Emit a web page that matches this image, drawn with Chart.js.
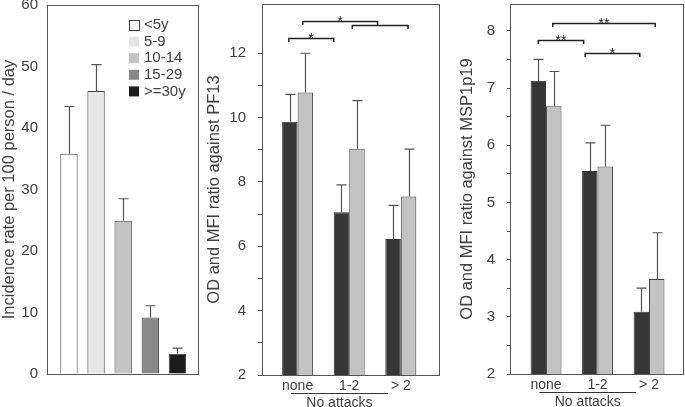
<!DOCTYPE html>
<html>
<head>
<meta charset="utf-8">
<script src="https://cdn.jsdelivr.net/npm/chart.js@4.4.1/dist/chart.umd.min.js"></script>
<style>
body { margin: 0; background: #fff; }
#wrap { position: relative; width: 685px; height: 407px; overflow: hidden; }
canvas { position: absolute; top: 0; }
</style>
</head>
<body>
<div id="wrap">
  <canvas id="chartAge" width="205" height="407" style="left:0"></canvas>
  <canvas id="chartPF13" width="250" height="407" style="left:205px"></canvas>
  <canvas id="chartMSP" width="230" height="407" style="left:455px"></canvas>
</div>
<script>
var ageGroups = ['<5y', '5-9', '10-14', '15-29', '>=30y'];
var incidence = [35.8, 46.0, 24.9, 9.2, 3.3];
var incidenceSd = [7.7, 4.3, 3.6, 1.9, 0.9];
var ageColors = ['#ffffff', '#e6e6e6', '#c4c4c4', '#888888', '#1c1c1c'];

var attackGroups = ['none', '1-2', '> 2'];
var pf13Od = [9.87, 7.06, 6.23];
var pf13OdSd = [0.85, 0.85, 1.04];
var pf13Mfi = [10.78, 9.03, 7.55];
var pf13MfiSd = [1.22, 1.50, 1.47];
var mspOd = [7.13, 5.55, 3.09];
var mspOdSd = [0.37, 0.49, 0.41];
var mspMfi = [6.68, 5.63, 3.66];
var mspMfiSd = [0.61, 0.72, 0.81];

// significance brackets (x in group units, y in axis units)
var pf13Brackets = [
    { x1: 0.83, x2: 1.70, y: 12.48, label: '*' },
    { x1: 1.10, x2: 2.55, y: 12.99, label: '*' },
    { x1: 2.06, x2: 3.14, y: 12.88, label: '' }
];
var mspBrackets = [
    { x1: 0.85, x2: 1.73, y: 7.84, label: '**' },
    { x1: 1.76, x2: 2.82, y: 7.62, label: '*' },
    { x1: 1.13, x2: 3.12, y: 8.14, label: '**' }
];

var FONT = '"Liberation Sans", Arial, sans-serif';
var TEXT = '#404040';
Chart.defaults.font.family = FONT;
Chart.defaults.font.size = 15;
Chart.defaults.color = TEXT;

function points(values) {
    return values.map(function (v, i) { return { x: i + 1, y: v }; });
}

var frame = {
    id: 'frame',
    afterDatasetsDraw: function (chart) {
        var a = chart.chartArea, ctx = chart.ctx;
        ctx.save();
        ctx.strokeStyle = '#555';
        ctx.lineWidth = 1;
        ctx.strokeRect(Math.round(a.left) + 0.5, Math.round(a.top) + 0.5,
            Math.round(a.right - a.left), Math.round(a.bottom - a.top));
        ctx.restore();
    }
};

var errorBars = {
    id: 'errorBars',
    afterDatasetsDraw: function (chart) {
        var ctx = chart.ctx, y = chart.scales.y;
        ctx.save();
        ctx.strokeStyle = '#555';
        ctx.lineWidth = 1.2;
        chart.data.datasets.forEach(function (ds, i) {
            if (!ds.sd) return;
            chart.getDatasetMeta(i).data.forEach(function (bar, j) {
                var top = y.getPixelForValue(ds.data[j].y + ds.sd[j]);
                var x = Math.round(bar.x) + 0.5;
                ctx.beginPath();
                ctx.moveTo(x, bar.y);
                ctx.lineTo(x, top);
                ctx.moveTo(x - 5, top);
                ctx.lineTo(x + 5, top);
                ctx.stroke();
            });
        });
        ctx.restore();
    }
};

var brackets = {
    id: 'brackets',
    afterDatasetsDraw: function (chart, args, opts) {
        if (!opts.items) return;
        var ctx = chart.ctx, xs = chart.scales.x, ys = chart.scales.y;
        ctx.save();
        ctx.strokeStyle = '#222';
        ctx.fillStyle = '#222';
        ctx.lineWidth = 1.5;
        ctx.font = '14px ' + FONT;
        ctx.textAlign = 'center';
        ctx.textBaseline = 'alphabetic';
        opts.items.forEach(function (b) {
            var x1 = xs.getPixelForValue(b.x1), x2 = xs.getPixelForValue(b.x2);
            var yy = Math.round(ys.getPixelForValue(b.y)) + 0.5;
            ctx.beginPath();
            ctx.moveTo(x1, yy + 3.5);
            ctx.lineTo(x1, yy);
            ctx.lineTo(x2, yy);
            ctx.lineTo(x2, yy + 3.5);
            ctx.stroke();
            if (b.label) ctx.fillText(b.label, (x1 + x2) / 2, yy + 4);
        });
        ctx.restore();
    }
};

var groupTitle = {
    id: 'groupTitle',
    afterDraw: function (chart, args, opts) {
        if (!opts.text) return;
        var ctx = chart.ctx, xs = chart.scales.x, bottom = chart.chartArea.bottom;
        var x1 = xs.getPixelForValue(opts.from), x2 = xs.getPixelForValue(opts.to);
        ctx.save();
        ctx.strokeStyle = '#333';
        ctx.lineWidth = 1;
        ctx.beginPath();
        ctx.moveTo(x1, bottom + 18.5);
        ctx.lineTo(x2, bottom + 18.5);
        ctx.stroke();
        ctx.fillStyle = TEXT;
        ctx.font = '14px ' + FONT;
        ctx.textAlign = 'center';
        ctx.textBaseline = 'middle';
        ctx.fillText(opts.text, (x1 + x2) / 2, bottom + 28);
        ctx.restore();
    }
};

var ageLegend = {
    id: 'ageLegend',
    afterDraw: function (chart) {
        var ctx = chart.ctx, a = chart.chartArea;
        var bx = a.right - 69, by = a.top + 15;
        ctx.save();
        ctx.font = '15px ' + FONT;
        ctx.textBaseline = 'middle';
        ageGroups.forEach(function (lab, i) {
            var y = by + i * 16.6;
            ctx.fillStyle = ageColors[i];
            ctx.fillRect(bx, y, 10, 10);
            if (i === 0) {
                ctx.strokeStyle = '#444';
                ctx.lineWidth = 1;
                ctx.strokeRect(bx + 0.5, y + 0.5, 10, 10);
            }
            ctx.fillStyle = TEXT;
            ctx.fillText(lab, bx + 15, y + 5);
        });
        ctx.restore();
    }
};

function yAxis(opts) {
    return {
        min: opts.min,
        max: opts.max,
        afterFit: function (s) {
            s.width = opts.width;
            s.paddingTop = 0;
            s.paddingBottom = 0;
        },
        afterBuildTicks: function (s) {
            s.ticks = s.ticks.filter(function (t) {
                return Math.abs(t.value / opts.step - Math.round(t.value / opts.step)) < 1e-6;
            });
        },
        ticks: {
            stepSize: opts.step,
            padding: opts.pad,
            color: TEXT,
            font: { size: 15 },
            callback: function (v) {
                return Math.abs(v / opts.label - Math.round(v / opts.label)) < 1e-6 ? v : '';
            }
        },
        grid: { display: true, drawOnChartArea: false, drawTicks: opts.tick > 0, tickLength: opts.tick, color: '#555' },
        border: { display: true, color: '#555' },
        title: {
            display: true,
            text: opts.title,
            color: TEXT,
            font: { size: 16.5 },
            padding: { top: opts.titlePad, bottom: 0 }
        }
    };
}

var common = {
    responsive: false,
    animation: false,
    events: []
};

new Chart(document.getElementById('chartAge'), {
    type: 'bar',
    data: {
        datasets: [{
            label: 'Incidence',
            data: points(incidence),
            sd: incidenceSd,
            backgroundColor: ageColors,
            borderColor: '#444',
            borderWidth: 1,
            barPercentage: 0.64,
            categoryPercentage: 1
        }]
    },
    options: Object.assign({}, common, {
        layout: { padding: { top: 5, right: 7, bottom: 33, left: 0 } },
        plugins: { legend: { display: false }, tooltip: { enabled: false } },
        scales: {
            x: { type: 'linear', min: 0.19, max: 5.76, offset: false, display: false },
            y: yAxis({ min: 0, max: 60, step: 10, label: 10, width: 47, pad: 9, tick: 0, title: 'Incidence rate per 100 person / day', titlePad: 0 })
        }
    }),
    plugins: [errorBars, frame, ageLegend]
});

function attackChart(id, od, odSd, mfi, mfiSd, xr, y, marks) {
    return new Chart(document.getElementById(id), {
        type: 'bar',
        data: {
            datasets: [
                { label: 'OD', data: points(od), sd: odSd, backgroundColor: '#363636', borderColor: '#333', borderWidth: 1 },
                { label: 'MFI', data: points(mfi), sd: mfiSd, backgroundColor: '#c2c2c2', borderColor: '#444', borderWidth: 1 }
            ]
        },
        options: Object.assign({}, common, {
            layout: { padding: { top: 4, right: xr.right, bottom: 0, left: 0 } },
            datasets: { bar: { categoryPercentage: 0.6, barPercentage: 1 } },
            plugins: {
                legend: { display: false },
                tooltip: { enabled: false },
                brackets: { items: marks },
                groupTitle: { text: 'No attacks', from: 0.87, to: 2.75 }
            },
            scales: {
                x: {
                    type: 'linear', min: xr.min, max: xr.max, offset: false,
                    afterFit: function (s) {
                        s.height = xr.height;
                        s.paddingLeft = 0;
                        s.paddingRight = 0;
                    },
                    afterBuildTicks: function (s) {
                        s.ticks = attackGroups.map(function (g, i) { return { value: i + 1 }; });
                    },
                    ticks: {
                        autoSkip: false, maxRotation: 0, padding: 3, color: TEXT,
                        font: { size: 14 },
                        callback: function (v) { return attackGroups[v - 1]; }
                    },
                    grid: { display: false, drawTicks: false },
                    border: { display: false }
                },
                y: yAxis(y)
            }
        }),
        plugins: [errorBars, frame, brackets, groupTitle]
    });
}

attackChart('chartPF13', pf13Od, pf13OdSd, pf13Mfi, pf13MfiSd,
    { min: 0.31, max: 3.74, right: 16, height: 32 },
    { min: 2, max: 13.53, step: 1, label: 2, width: 57, pad: 12, tick: 4, title: 'OD and MFI ratio against PF13', titlePad: 0 },
    pf13Brackets);

attackChart('chartMSP', mspOd, mspOdSd, mspMfi, mspMfiSd,
    { min: 0.30, max: 3.66, right: 2, height: 33 },
    { min: 2, max: 8.47, step: 0.5, label: 1, width: 55, pad: 12, tick: 3, title: 'OD and MFI ratio against MSP1p19', titlePad: 3 },
    mspBrackets);
</script>
</body>
</html>
